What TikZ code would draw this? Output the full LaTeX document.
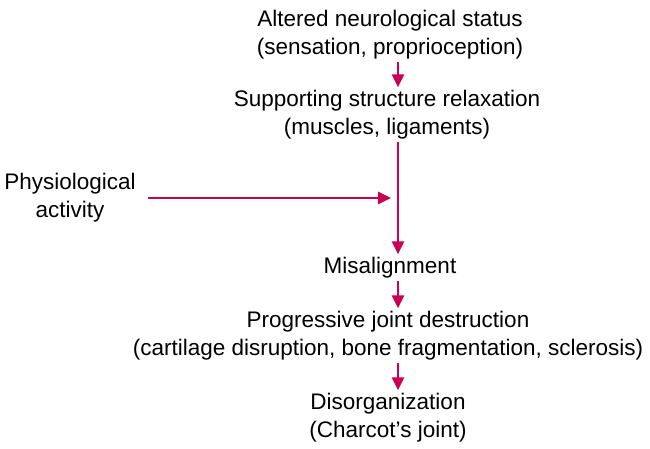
\documentclass[tikz,border=0pt]{standalone}
\usepackage{fontspec}
\setmainfont{Liberation Sans}
\usepackage{tikz}
\usetikzlibrary{arrows.meta, positioning, calc}
\usepackage{xcolor}
\definecolor{crimson}{RGB}{204,0,82}

\begin{document}
\begin{tikzpicture}[
  x=1pt, y=-1pt,
  label/.style={inner sep=0pt, font=\fontsize{22.5}{28}\selectfont, align=center},
  arrow/.style={-{Triangle[length=13pt, width=12pt]}, line width=2.8pt, crimson,
                shorten <=2pt, shorten >=3pt},
]
  \useasboundingbox (0,0) rectangle (650,449);
  \node[label] (status) at (390,35) {Altered neurological status\\(sensation, proprioception)};
  \node[label] (relax) at (387,115) {Supporting structure relaxation\\(muscles, ligaments)};
  \node[label] (physio) at (70,198) {Physiological\\activity};
  \node[label] (misalign) at (390,268) {Misalignment};
  \node[label] (destruct) at (388,336) {Progressive joint destruction\\(cartilage disruption, bone fragmentation, sclerosis)};
  \node[label] (charcot) at (388,418) {Disorganization\\(Charcot’s joint)};
  \coordinate (spine) at (398,0);
  \coordinate (meet) at (physio -| spine);
  \draw[arrow] (status.south -| spine) -- (relax.north -| spine);
  \draw[arrow] (relax.south -| spine) -- (misalign.north -| spine);
  \draw[arrow, shorten <=12pt, shorten >=7pt] (physio.east) -- (meet);
  \draw[arrow] (misalign.south -| spine) -- (destruct.north -| spine);
  \draw[arrow] (destruct.south -| spine) -- (charcot.north -| spine);
\end{tikzpicture}
\end{document}
